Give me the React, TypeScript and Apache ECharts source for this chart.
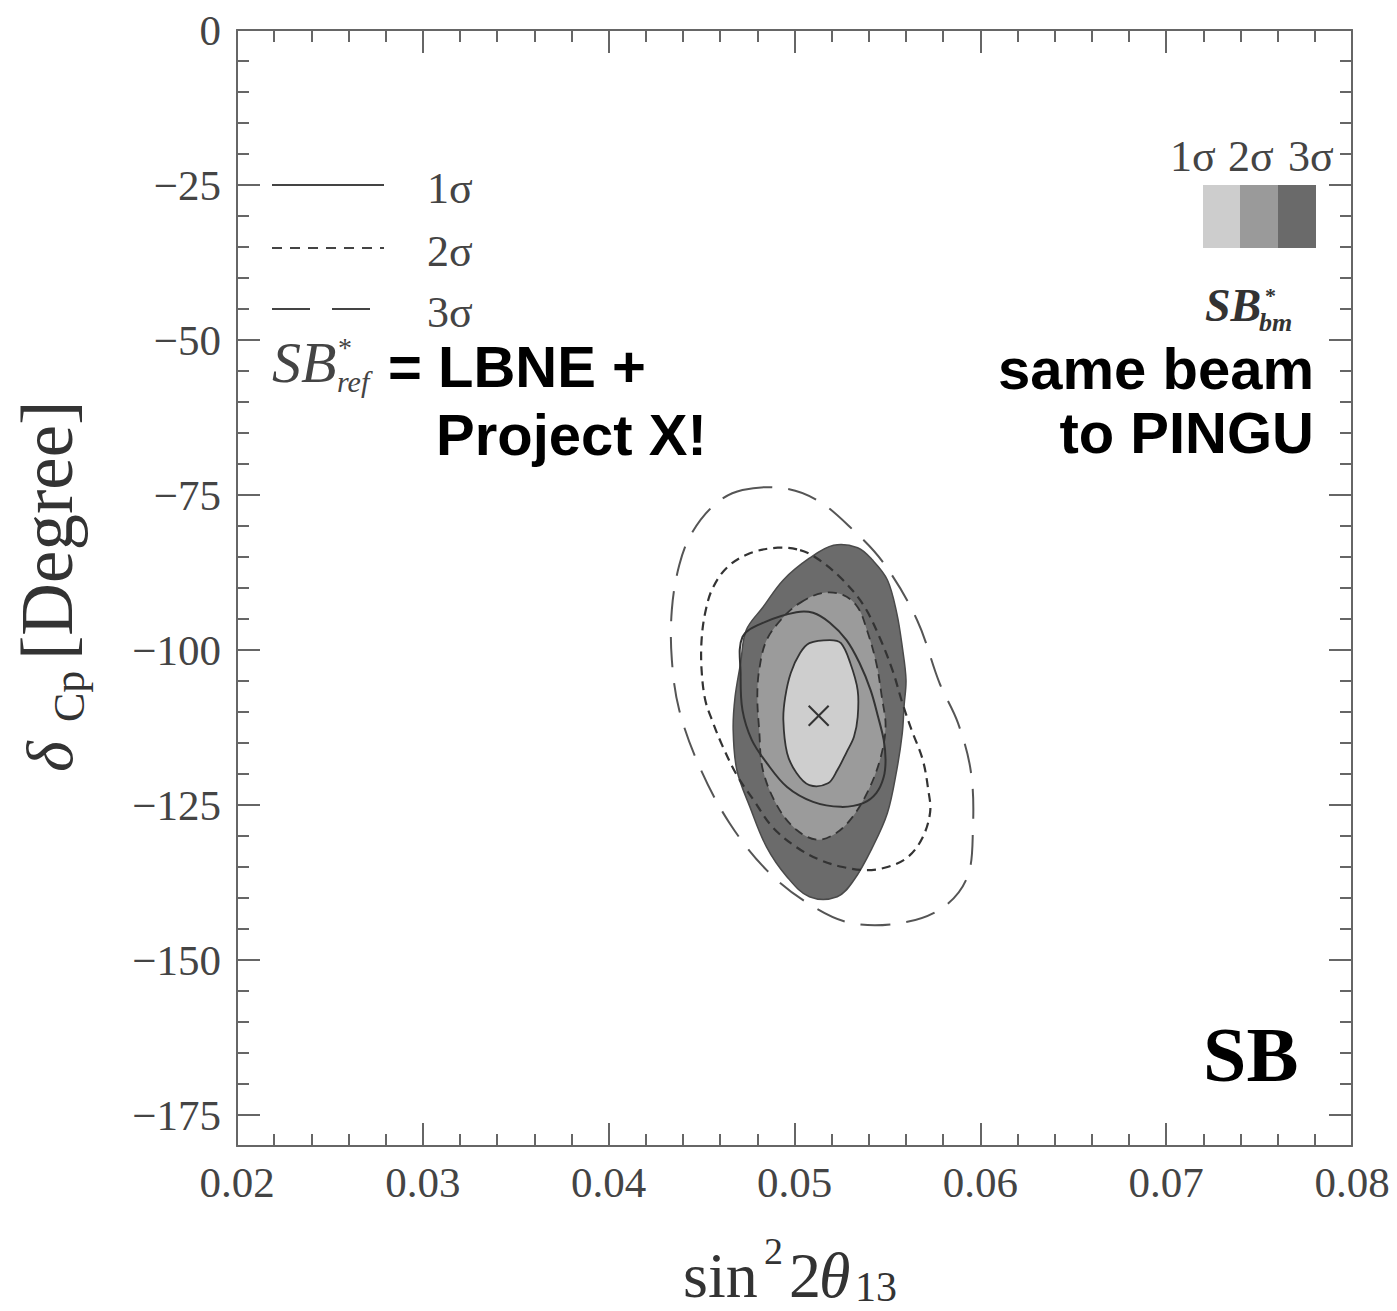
import React, { useEffect, useRef } from "react";
import * as echarts from "echarts";

// ---- data (sin^2 2θ13, δCP in degrees) ----
const yMajorTicks = [0, -25, -50, -75, -100, -125, -150, -175];

const bestFit: [number, number][] = [[0.0513, -110.6]];

// SB*bm filled regions
const fill1Sigma: [number, number][] = [
  [0.0508, -98.9], [0.0519, -98.4], [0.0525, -98.9], [0.053, -102.1], [0.0534, -106.5],
  [0.0534, -110.8], [0.0532, -114.0], [0.0528, -116.5], [0.0523, -119.4], [0.0518, -121.5],
  [0.0508, -121.8], [0.0501, -119.8], [0.0496, -116.6], [0.0494, -111.3], [0.0495, -107.6],
  [0.0498, -103.7], [0.0503, -100.5],
];
const fill2Sigma: [number, number][] = [
  [0.0503, -92.4], [0.0515, -90.8], [0.0526, -91.1], [0.0534, -93.1], [0.0539, -96.8],
  [0.0544, -102.1], [0.0547, -107.6], [0.0549, -112.4], [0.0546, -117.7], [0.0539, -123.1],
  [0.053, -127.4], [0.0521, -129.8], [0.0512, -130.6], [0.0501, -129.0], [0.0491, -125.3],
  [0.0483, -119.4], [0.0481, -112.9], [0.048, -107.6], [0.0481, -103.2], [0.0485, -98.4],
  [0.0494, -94.7],
];
const fill3Sigma: [number, number][] = [
  [0.0521, -83.1], [0.0534, -83.5], [0.0542, -85.5], [0.055, -88.7], [0.0555, -94.0],
  [0.0558, -99.5], [0.056, -104.8], [0.0559, -108.9], [0.0558, -113.4], [0.0555, -119.4],
  [0.055, -126.3], [0.0542, -131.8], [0.0532, -137.1], [0.0523, -139.8], [0.0508, -139.8],
  [0.0496, -136.6], [0.0485, -131.8], [0.0476, -125.3], [0.0469, -119.4], [0.0467, -112.9],
  [0.0468, -107.6], [0.0471, -102.1], [0.0474, -96.8], [0.0483, -93.1], [0.0494, -88.7],
  [0.0508, -85.2],
];

// SB*ref contour lines
const ref1Sigma: [number, number][] = [
  [0.0472, -97.9], [0.0484, -95.5], [0.0501, -93.9], [0.051, -94.0], [0.0519, -95.6],
  [0.0528, -98.4], [0.0535, -102.1], [0.0541, -106.5], [0.0545, -110.8], [0.0548, -114.5],
  [0.0549, -117.7], [0.0548, -120.5], [0.0544, -123.1], [0.0537, -124.7], [0.0525, -125.3],
  [0.051, -124.5], [0.0496, -122.1], [0.0485, -118.2], [0.0477, -114.5], [0.0472, -109.7],
  [0.0471, -104.0],
];
const ref2Sigma: [number, number][] = [
  [0.0503, -83.9], [0.0512, -85.2], [0.0525, -88.4], [0.0537, -92.7], [0.0546, -98.1],
  [0.0553, -103.5], [0.0558, -108.5], [0.0563, -112.9], [0.0569, -117.7], [0.0572, -122.6],
  [0.0573, -126.1], [0.0569, -130.2], [0.0561, -133.4], [0.055, -135.0], [0.0539, -135.5],
  [0.0526, -135.0], [0.0514, -133.9], [0.0501, -131.8], [0.0488, -128.5], [0.0478, -124.2],
  [0.0469, -120.2], [0.0461, -115.3], [0.0456, -111.6], [0.0452, -108.1], [0.045, -103.2],
  [0.045, -98.4], [0.0452, -93.9], [0.0456, -90.0], [0.0464, -86.6], [0.0476, -84.4],
  [0.0491, -83.5],
];
const ref3Sigma: [number, number][] = [
  [0.0472, -74.2], [0.0494, -73.9], [0.0512, -75.8], [0.053, -80.2], [0.0548, -86.0],
  [0.0566, -95.2], [0.0578, -105.3], [0.0588, -111.8], [0.0595, -119.8], [0.0596, -129.0],
  [0.0593, -136.6], [0.058, -141.5], [0.0558, -144.0], [0.053, -144.0], [0.0507, -140.8],
  [0.0485, -135.5], [0.0465, -127.9], [0.0449, -118.9], [0.0438, -109.7], [0.0434, -101.6],
  [0.0434, -93.5], [0.0438, -86.3], [0.0445, -81.0], [0.0458, -76.3],
];

const legendLines = ["1\u03c3", "2\u03c3", "3\u03c3"];

const SERIF = '"Liberation Serif", "DejaVu Serif", serif';
const SANS = '"Liberation Sans", Arial, sans-serif';

function polygonSeries(
  name: string,
  pts: [number, number][],
  fill: string,
  stroke: string,
  lineWidth: number,
  dash: number[] | null,
  z: number
) {
  return {
    type: "custom",
    name,
    coordinateSystem: "cartesian2d",
    xAxisIndex: 0,
    yAxisIndex: 0,
    silent: true,
    z,
    data: pts,
    renderItem: (params: any, api: any) => {
      if (params.dataIndex !== 0) return null;
      const points = pts.map((p) => api.coord(p));
      return {
        type: "polygon",
        shape: { points, smooth: 0.35 },
        style: {
          fill,
          stroke,
          lineWidth,
          lineDash: dash || undefined,
        },
      };
    },
  };
}

export default function App() {
  const ref = useRef<HTMLDivElement>(null);

  useEffect(() => {
    if (!ref.current) return;
    const chart = echarts.init(ref.current, undefined, { renderer: "svg" });
    const axisColor = "#666";
    const tickStyle = { color: axisColor, width: 2 };
    const labelStyle = { fontFamily: SERIF, fontSize: 43, color: "#444" };

    const xBase = {
      type: "value",
      min: 0.02,
      max: 0.08,
      interval: 0.01,
      axisLine: { show: true, onZero: false, lineStyle: { color: axisColor, width: 2 } },
      axisTick: { show: true, inside: true, length: 23, lineStyle: tickStyle },
      minorTick: { show: true, splitNumber: 5, length: 12, lineStyle: tickStyle },
      splitLine: { show: false },
      minorSplitLine: { show: false },
    };
    const yMinor = {
      type: "value",
      min: -180,
      max: 0,
      interval: 5,
      axisLine: { show: true, onZero: false, lineStyle: { color: axisColor, width: 2 } },
      axisTick: { show: true, inside: true, length: 12, lineStyle: tickStyle },
      splitLine: { show: false },
    };
    const yMajor = {
      type: "value",
      min: -180,
      max: 0,
      axisLine: { show: false },
      axisTick: { show: true, inside: true, length: 23, lineStyle: tickStyle, customValues: yMajorTicks },
      axisLabel: { show: false },
      splitLine: { show: false },
    };

    const graphics: any[] = [];
    // left legend (line styles for SB*ref)
    const legendY = [185, 248, 309];
    const dashes: (number[] | null)[] = [null, [10, 8], [38, 22]];
    legendY.forEach((y, i) => {
      graphics.push({
        type: "line",
        shape: { x1: 272, y1: y, x2: 384, y2: y },
        style: { stroke: "#444", lineWidth: 2, lineDash: dashes[i] || undefined },
      });
      graphics.push({
        type: "text",
        x: 427,
        y: y + 3,
        style: { text: legendLines[i], font: `44px ${SERIF}`, fill: "#444", verticalAlign: "middle" },
      });
    });
    // SB*ref = LBNE + Project X!
    graphics.push(
      { type: "text", x: 272, y: 362, style: { text: "SB", font: `italic 58px ${SERIF}`, fill: "#444", verticalAlign: "middle" } },
      { type: "text", x: 338, y: 347, style: { text: "*", font: `28px ${SERIF}`, fill: "#444", verticalAlign: "middle" } },
      { type: "text", x: 337, y: 381, style: { text: "ref", font: `italic 30px ${SERIF}`, fill: "#444", verticalAlign: "middle" } },
      { type: "text", x: 388, y: 366, style: { text: "= LBNE +", font: `bold 58px ${SANS}`, fill: "#000", verticalAlign: "middle" } },
      { type: "text", x: 436, y: 434, style: { text: "Project X!", font: `bold 58px ${SANS}`, fill: "#000", verticalAlign: "middle" } },
      { type: "text", x: 1314, y: 368, style: { text: "same beam", font: `bold 58px ${SANS}`, fill: "#000", align: "right", verticalAlign: "middle" } },
      { type: "text", x: 1314, y: 432, style: { text: "to PINGU", font: `bold 58px ${SANS}`, fill: "#000", align: "right", verticalAlign: "middle" } }
    );
    // right legend (fill shades for SB*bm)
    const shadeLabelX = [1170, 1228, 1288];
    legendLines.forEach((t, i) => {
      graphics.push({
        type: "text",
        x: shadeLabelX[i],
        y: 156,
        style: { text: t, font: `44px ${SERIF}`, fill: "#444", verticalAlign: "middle" },
      });
    });
    graphics.push(
      { type: "rect", shape: { x: 1203, y: 185, width: 38, height: 63 }, style: { fill: "#cdcdcd" } },
      { type: "rect", shape: { x: 1240, y: 185, width: 39, height: 63 }, style: { fill: "#9a9a9a" } },
      { type: "rect", shape: { x: 1278, y: 185, width: 38, height: 63 }, style: { fill: "#6a6a6a" } },
      { type: "text", x: 1205, y: 305, style: { text: "SB", font: `italic bold 46px ${SERIF}`, fill: "#333", verticalAlign: "middle" } },
      { type: "text", x: 1265, y: 295, style: { text: "*", font: `bold 22px ${SERIF}`, fill: "#333", verticalAlign: "middle" } },
      { type: "text", x: 1259, y: 322, style: { text: "bm", font: `italic bold 26px ${SERIF}`, fill: "#333", verticalAlign: "middle" } },
      { type: "text", x: 1203, y: 1054, style: { text: "SB", font: `bold 78px ${SERIF}`, fill: "#000", verticalAlign: "middle" } }
    );
    // x-axis title: sin^2 2θ13
    graphics.push(
      { type: "text", x: 683, y: 1275, style: { text: "sin", font: `64px ${SERIF}`, fill: "#333", verticalAlign: "middle" } },
      { type: "text", x: 764, y: 1251, style: { text: "2", font: `38px ${SERIF}`, fill: "#333", verticalAlign: "middle" } },
      { type: "text", x: 789, y: 1275, style: { text: "2", font: `64px ${SERIF}`, fill: "#333", verticalAlign: "middle" } },
      { type: "text", x: 819, y: 1275, style: { text: "\u03b8", font: `italic 64px ${SERIF}`, fill: "#333", verticalAlign: "middle" } },
      { type: "text", x: 855, y: 1287, style: { text: "13", font: `42px ${SERIF}`, fill: "#333", verticalAlign: "middle" } }
    );
    // y-axis title: δCp[Degree]
    graphics.push({
      type: "group",
      x: 71,
      y: 772,
      rotation: Math.PI / 2,
      children: [
        { type: "text", x: 0, y: -22, style: { text: "\u03b4", font: `italic 66px ${SERIF}`, fill: "#333", verticalAlign: "middle" } },
        { type: "text", x: 50, y: -2, style: { text: "Cp", font: `44px ${SERIF}`, fill: "#333", verticalAlign: "middle" } },
        { type: "text", x: 112, y: -24, style: { text: "[Degree]", font: `73px ${SERIF}`, fill: "#333", verticalAlign: "middle" } },
      ],
    });

    const option: any = {
      animation: false,
      backgroundColor: "#fff",
      grid: { left: 237, right: 45, top: 30, bottom: 165, containLabel: false },
      xAxis: [
        {
          ...xBase,
          position: "bottom",
          axisLabel: { ...labelStyle, margin: 15, formatter: (v: number) => v.toFixed(2) },
        },
        { ...xBase, position: "top", axisLabel: { show: false } },
      ],
      yAxis: [
        {
          ...yMinor,
          position: "left",
          axisLabel: {
            ...labelStyle,
            margin: 16,
            formatter: (v: number) =>
              Math.round(v) % 25 === 0 ? (v === 0 ? "0" : "\u2212" + Math.abs(Math.round(v))) : "",
          },
        },
        { ...yMajor, position: "left" },
        { ...yMinor, position: "right", axisLabel: { show: false } },
        { ...yMajor, position: "right" },
      ],
      series: [
        polygonSeries("SBbm 3σ", fill3Sigma, "#6b6b6b", "#4a4a4a", 1.5, null, 2),
        polygonSeries("SBbm 2σ", fill2Sigma, "#9b9b9b", "#333", 1.8, [9, 6], 3),
        polygonSeries("SBbm 1σ", fill1Sigma, "#cecece", "#333", 1.8, null, 4),
        polygonSeries("SBref 1σ", ref1Sigma, "none", "#333", 2, null, 5),
        polygonSeries("SBref 2σ", ref2Sigma, "none", "#333", 2.2, [9, 6], 5),
        polygonSeries("SBref 3σ", ref3Sigma, "none", "#555", 2, [30, 16], 5),
        {
          type: "custom",
          name: "best fit",
          coordinateSystem: "cartesian2d",
          xAxisIndex: 0,
          yAxisIndex: 0,
          z: 6,
          data: bestFit,
          renderItem: (params: any, api: any) => {
            const c = api.coord([api.value(0), api.value(1)]);
            const s = 10;
            const st = { stroke: "#333", lineWidth: 2 };
            return {
              type: "group",
              children: [
                { type: "line", shape: { x1: c[0] - s, y1: c[1] - s, x2: c[0] + s, y2: c[1] + s }, style: st },
                { type: "line", shape: { x1: c[0] - s, y1: c[1] + s, x2: c[0] + s, y2: c[1] - s }, style: st },
              ],
            };
          },
        },
      ],
      graphic: graphics,
    };
    chart.setOption(option);
    return () => chart.dispose();
  }, []);

  return (
    <div
      ref={ref}
      style={{ position: "absolute", left: 0, top: 0, width: 1397, height: 1311, background: "#fff" }}
    />
  );
}
